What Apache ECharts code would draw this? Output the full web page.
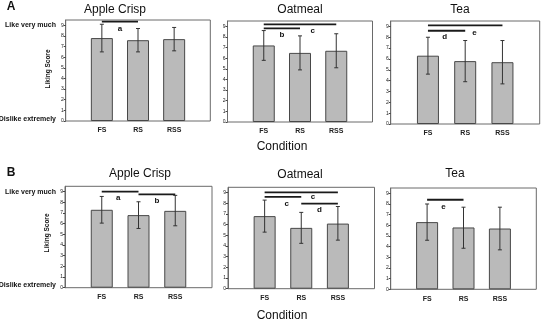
<!DOCTYPE html>
<html>
<head>
<meta charset="utf-8">
<title>Liking Score</title>
<script src="https://cdn.jsdelivr.net/npm/echarts@6/dist/echarts.min.js"></script>
<style>
html, body { margin: 0; padding: 0; background: #fff; }
#chart { width: 548px; height: 321px; }
</style>
</head>
<body>
<div id="chart"></div>
<script>
// x axis categories and y tick labels
const conditions = ["FS", "RS", "RSS"];
const foods = ["Apple Crisp", "Oatmeal", "Tea"];
const yTicks = [0, 1, 2, 3, 4, 5, 6, 7, 8, 9];

// panel A: mean, lower and upper end of error bar
const appleA = [7.8, 7.6, 7.7];
const appleALow = [6.5, 6.5, 6.6];
const appleAHigh = [9.1, 8.7, 8.8];
const oatmealA = [7.2, 6.5, 6.7];
const oatmealALow = [5.8, 4.9, 5.1];
const oatmealAHigh = [8.6, 8.1, 8.3];
const teaA = [6.3, 5.8, 5.7];
const teaALow = [4.6, 3.9, 3.7];
const teaAHigh = [8.0, 7.7, 7.7];

// panel B
const appleB = [7.3, 6.8, 7.2];
const appleBLow = [6.05, 5.55, 5.8];
const appleBHigh = [8.55, 8.05, 8.65];
const oatmealB = [6.8, 5.7, 6.1];
const oatmealBLow = [5.3, 4.25, 4.55];
const oatmealBHigh = [8.3, 7.15, 7.7];
const teaB = [6.3, 5.8, 5.7];
const teaBLow = [4.6, 3.85, 3.7];
const teaBHigh = [8.0, 7.7, 7.7];

// significance bars: [from condition, to condition, level]
const appleABars = [[0, 1, 9.35]];
const oatmealABars = [[0, 2, 9.18], [0, 1, 8.8]];
const teaABars = [[0, 2, 9.1], [0, 1, 8.6]];
const appleBBars = [[0, 1, 9.0], [1, 2, 8.75]];
const oatmealBBars = [[0, 2, 9.03], [0, 1, 8.6], [1, 2, 7.97]];
const teaBBars = [[0, 1, 8.4]];

// letters for them: [text, condition position, level]
const appleALetters = [["a", 0.5, 8.65]];
const oatmealALetters = [["b", 0.5, 8.2], ["c", 1.35, 8.6]];
const teaALetters = [["d", 0.45, 8.0], ["e", 1.25, 8.45]];
const appleBLetters = [["a", 0.45, 8.4], ["b", 1.5, 8.1]];
const oatmealBLetters = [["c", 1.32, 8.6], ["c", 0.6, 7.97], ["d", 1.5, 7.4]];
const teaBLetters = [["e", 0.45, 7.7]];

const font = "Liberation Sans, Arial, sans-serif";

// left, top, width, height of every box, title x/y
const panels = [
	{ mean: appleA, low: appleALow, high: appleAHigh, bars: appleABars, letters: appleALetters, rect: [65.7, 20, 144.6, 101], title: [115, 10] },
	{ mean: oatmealA, low: oatmealALow, high: oatmealAHigh, bars: oatmealABars, letters: oatmealALetters, rect: [227.5, 21, 145, 101], title: [300, 10] },
	{ mean: teaA, low: teaALow, high: teaAHigh, bars: teaABars, letters: teaALetters, rect: [390.7, 21, 149, 103], title: [460, 9.5] },
	{ mean: appleB, low: appleBLow, high: appleBHigh, bars: appleBBars, letters: appleBLetters, rect: [65, 186.3, 147, 101.4], title: [140, 174] },
	{ mean: oatmealB, low: oatmealBLow, high: oatmealBHigh, bars: oatmealBBars, letters: oatmealBLetters, rect: [228, 187.3, 146.5, 101.4], title: [300, 175] },
	{ mean: teaB, low: teaBLow, high: teaBHigh, bars: teaBBars, letters: teaBLetters, rect: [390.7, 188, 145.6, 101.3], title: [455, 174] },
];

let grid = [], xAxis = [], yAxis = [], series = [], graphic = [];

panels.forEach(function (p, i) {
	grid.push({
		left: p.rect[0],
		top: p.rect[1],
		width: p.rect[2],
		height: p.rect[3],
		show: true,
		borderColor: "#6a6a6a",
		borderWidth: 1,
		backgroundColor: "transparent",
		outerBoundsMode: "none",
	});
	xAxis.push({
		type: "value",
		gridIndex: i,
		min: 0,
		max: 4,
		axisLine: { show: false },
		axisTick: { show: false },
		splitLine: { show: false },
		axisLabel: {
			customValues: [1, 2, 3],
			formatter: function (v) {
				return conditions[v - 1] || "";
			},
			fontSize: 7,
			fontWeight: "bold",
			fontFamily: font,
			color: "#222",
			margin: 6,
		},
	});
	yAxis.push({
		type: "value",
		gridIndex: i,
		min: 0,
		max: 9.5,
		axisLine: { show: true, lineStyle: { color: "#6a6a6a", width: 1 } },
		axisTick: { show: true, length: 2, customValues: yTicks, lineStyle: { color: "#444" } },
		splitLine: { show: false },
		axisLabel: {
			customValues: yTicks,
			fontSize: 5,
			fontFamily: font,
			color: "#222",
			margin: 2,
		},
	});
	//均值柱子
	series.push({
		type: "bar",
		xAxisIndex: i,
		yAxisIndex: i,
		barWidth: 22,
		silent: true,
		itemStyle: { color: "#bababa", borderColor: "#484848", borderWidth: 1 },
		data: p.mean.map(function (v, k) {
			return [k + 1, v];
		}),
	});
	//误差线
	series.push({
		type: "custom",
		xAxisIndex: i,
		yAxisIndex: i,
		silent: true,
		z: 3,
		encode: { x: 0, y: [1, 2] },
		data: p.mean.map(function (v, k) {
			return [k + 1, p.low[k], p.high[k]];
		}),
		renderItem: function (params, api) {
			let x = api.value(0);
			let top = api.coord([x, api.value(2)]);
			let bot = api.coord([x, api.value(1)]);
			let st = { stroke: "#333", lineWidth: 1 };
			return {
				type: "group",
				children: [
					{ type: "line", shape: { x1: top[0], y1: top[1], x2: bot[0], y2: bot[1] }, style: st },
					{ type: "line", shape: { x1: top[0] - 2, y1: top[1], x2: top[0] + 2, y2: top[1] }, style: st },
					{ type: "line", shape: { x1: bot[0] - 2, y1: bot[1], x2: bot[0] + 2, y2: bot[1] }, style: st },
				],
			};
		},
	});
	//显著性横线
	series.push({
		type: "custom",
		xAxisIndex: i,
		yAxisIndex: i,
		silent: true,
		z: 4,
		encode: { x: [0, 1], y: 2 },
		data: p.bars.map(function (b) {
			return [b[0] + 1, b[1] + 1, b[2]];
		}),
		renderItem: function (params, api) {
			let a = api.coord([api.value(0), api.value(2)]);
			let b = api.coord([api.value(1), api.value(2)]);
			return {
				type: "line",
				shape: { x1: a[0], y1: a[1], x2: b[0], y2: b[1] },
				style: { stroke: "#1a1a1a", lineWidth: 1.8 },
			};
		},
	});
	//字母
	series.push({
		type: "custom",
		xAxisIndex: i,
		yAxisIndex: i,
		silent: true,
		z: 4,
		encode: { x: 0, y: 1 },
		data: p.letters.map(function (l) {
			return [l[1] + 1, l[2]];
		}),
		renderItem: function (params, api) {
			let pt = api.coord([api.value(0), api.value(1)]);
			return {
				type: "text",
				x: pt[0],
				y: pt[1],
				style: {
					text: p.letters[params.dataIndex][0],
					fontSize: 8,
					fontWeight: "bold",
					fontFamily: font,
					fill: "#111",
					align: "center",
					verticalAlign: "middle",
				},
			};
		},
	});
	graphic.push({
		type: "text",
		x: p.title[0],
		y: p.title[1],
		style: {
			text: foods[i % 3],
			fontSize: 12,
			fontFamily: font,
			fill: "#111",
			align: "center",
			verticalAlign: "middle",
		},
	});
});

function txt(s, x, y, size, weight, align, rot) {
	return {
		type: "text",
		x: x,
		y: y,
		rotation: rot || 0,
		style: {
			text: s,
			fontSize: size,
			fontWeight: weight,
			fontFamily: font,
			fill: "#111",
			align: align,
			verticalAlign: "middle",
		},
	};
}

graphic.push(txt("A", 11, 7, 12, "bold", "center"));
graphic.push(txt("B", 11, 173, 12, "bold", "center"));
graphic.push(txt("Condition", 282, 146.5, 12, "normal", "center"));
graphic.push(txt("Condition", 282, 315.5, 12, "normal", "center"));
graphic.push(txt("Like very much", 56, 25, 7, "bold", "right"));
graphic.push(txt("Dislike extremely", 56, 119.5, 7, "bold", "right"));
graphic.push(txt("Like very much", 56, 192.3, 7, "bold", "right"));
graphic.push(txt("Dislike extremely", 56, 285, 7, "bold", "right"));
graphic.push(txt("Liking Score", 47.8, 69, 6.5, "bold", "center", Math.PI / 2));
graphic.push(txt("Liking Score", 47.5, 233, 6.5, "bold", "center", Math.PI / 2));

let myChart = echarts.init(document.getElementById("chart"));
myChart.setOption({
	animation: false,
	backgroundColor: "#fff",
	grid: grid,
	xAxis: xAxis,
	yAxis: yAxis,
	series: series,
	graphic: graphic,
});
</script>
</body>
</html>
